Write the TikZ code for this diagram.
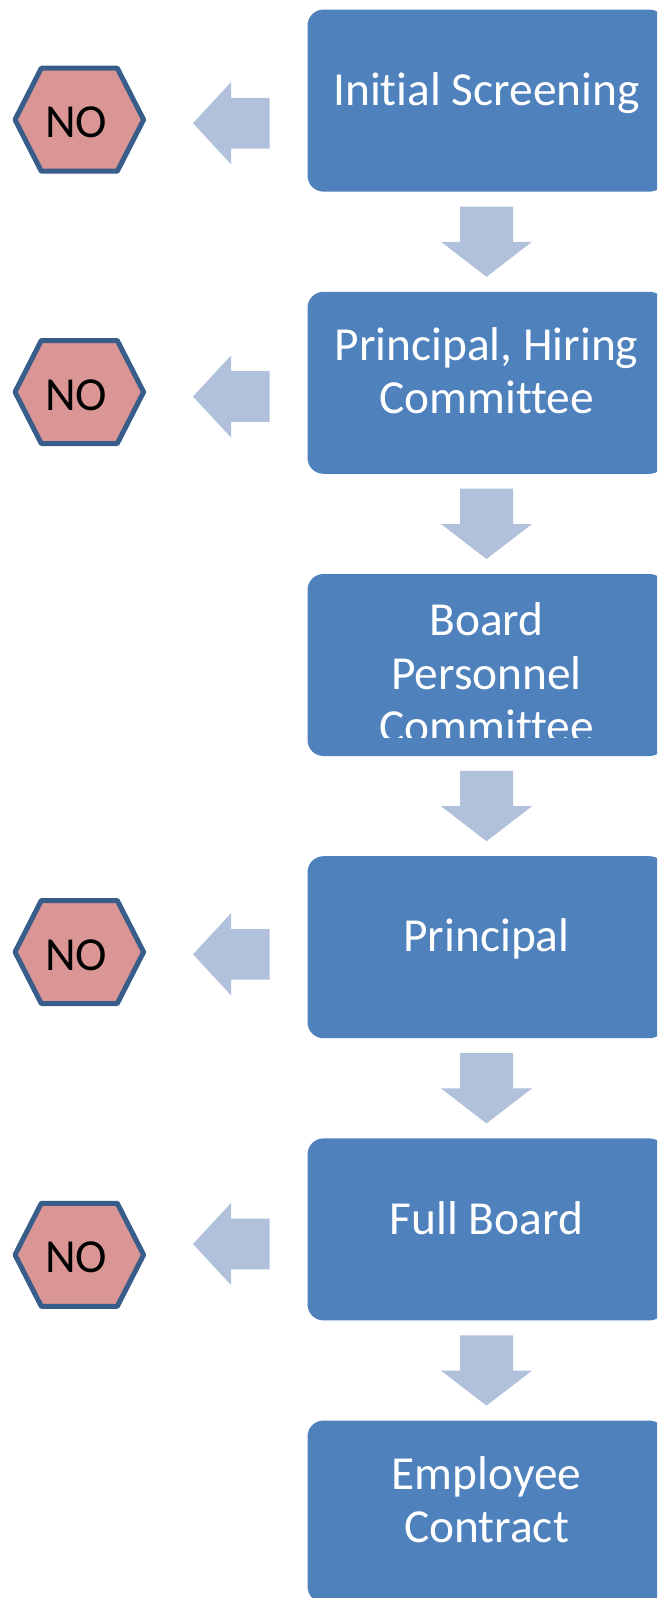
\documentclass[tikz,border=0pt]{standalone}
\usepackage{fontspec}
\setmainfont{Carlito}[Ligatures={NoCommon,NoContextual}]
\usetikzlibrary{calc}
\definecolor{boxblue}{HTML}{4F81BD}
\definecolor{arrowblue}{HTML}{B2C1DB}
\definecolor{hexfill}{HTML}{D99694}
\definecolor{hexline}{HTML}{385D8A}
\tikzset{
  stepbox/.style={rounded corners=16pt, fill=boxblue, minimum width=358pt, minimum height=182pt, inner sep=0pt, anchor=north},
  steptext/.style={text=white, font=\fontsize{47.4pt}{53.6pt}\selectfont, anchor=base, inner sep=0pt},
  notext/.style={text=black, font=\fontsize{47.4pt}{53.6pt}\selectfont, anchor=base, inner sep=0pt},
  hexmark/.style={draw=hexline, fill=hexfill, line width=5pt, line join=round},
  blockarrow/.style={fill=arrowblue},
}
\newcommand\drawnohex[1]{%
  \draw[hexmark] ($(#1)+(-64.3,0)$) -- ($(#1)+(-38,-51.5)$) -- ($(#1)+(38,-51.5)$) -- ($(#1)+(64.3,0)$) -- ($(#1)+(38,51.5)$) -- ($(#1)+(-38,51.5)$) -- cycle;}
\newcommand\leftblock[1]{%
  \fill[blockarrow] (#1) -- ($(#1)+(38,-41)$) -- ($(#1)+(38,-25.3)$) -- ($(#1)+(76.5,-25.3)$) -- ($(#1)+(76.5,25.3)$) -- ($(#1)+(38,25.3)$) -- ($(#1)+(38,41)$) -- cycle;}
\newcommand\downblock[1]{%
  \fill[blockarrow] ($(#1.south)+(-26.5,14.7)$) -- ($(#1.south)+(26.5,14.7)$) -- ($(#1.south)+(26.5,50)$) -- ($(#1.south)+(45.5,50)$) -- ($(#1.south)+(0,85)$) -- ($(#1.south)+(-45.5,50)$) -- ($(#1.south)+(-26.5,50)$) -- cycle;}
\begin{document}
\begin{tikzpicture}[x=1pt,y=-1pt]
\clip (0,0) rectangle (657,1598);
\fill[white] (0,0) rectangle (657,1598);

% step boxes
\node[stepbox] (b1) at (486.5,9.4) {};
\node[stepbox] (b2) at (486.5,291.6) {};
\node[stepbox] (b3) at (486.5,573.8) {};
\node[stepbox] (b4) at (486.5,856) {};
\node[stepbox] (b5) at (486.5,1138.2) {};
\node[stepbox] (b6) at (486.5,1420.4) {};

% texts
\node[steptext] (t1) at ($(b1.north)+(0,95.7)$) {Initial Screening};
\node[steptext] (t2a) at ($(b2.north)+(0,69.3)$) {Principal, Hiring};
\node[steptext] (t2b) at ($(b2.north)+(0,121.7)$) {Committee};
\begin{scope}
  \clip ($(b3.north west)+(-5,0)$) rectangle ($(b3.north east)+(5,163.2)$);
  \node[steptext] (t3a) at ($(b3.north)+(0,61.9)$) {Board};
  \node[steptext] (t3b) at ($(b3.north)+(0,115.3)$) {Personnel};
  \node[steptext] (t3c) at ($(b3.north)+(0,168.8)$) {Committee};
\end{scope}
\node[steptext] (t4) at ($(b4.north)+(0,95.7)$) {Principal};
\node[steptext] (t5) at ($(b5.north)+(0,96.7)$) {Full Board};
\node[steptext] (t6a) at ($(b6.north)+(0,68.6)$) {Employee};
\node[steptext] (t6b) at ($(b6.north)+(0,122.3)$) {Contract};

% down arrows
\downblock{b1}
\downblock{b2}
\downblock{b3}
\downblock{b4}
\downblock{b5}

% NO hexagons
\coordinate (h1) at (79.3,119.7);
\coordinate (h2) at (79.3,392);
\coordinate (h3) at (79.3,952);
\coordinate (h4) at (79.3,1254.8);
\drawnohex{h1}
\drawnohex{h2}
\drawnohex{h3}
\drawnohex{h4}
\node[notext] (n1) at ($(h1)+(-3,18)$) {NO};
\node[notext] (n2) at ($(h2)+(-3,18)$) {NO};
\node[notext] (n3) at ($(h3)+(-3,18)$) {NO};
\node[notext] (n4) at ($(h4)+(-3,18)$) {NO};

% left arrows
\coordinate (la1) at (193,123.2);
\coordinate (la2) at (193,396.5);
\coordinate (la3) at (193,954.3);
\coordinate (la4) at (193,1244);
\leftblock{la1}
\leftblock{la2}
\leftblock{la3}
\leftblock{la4}
\end{tikzpicture}
\end{document}
